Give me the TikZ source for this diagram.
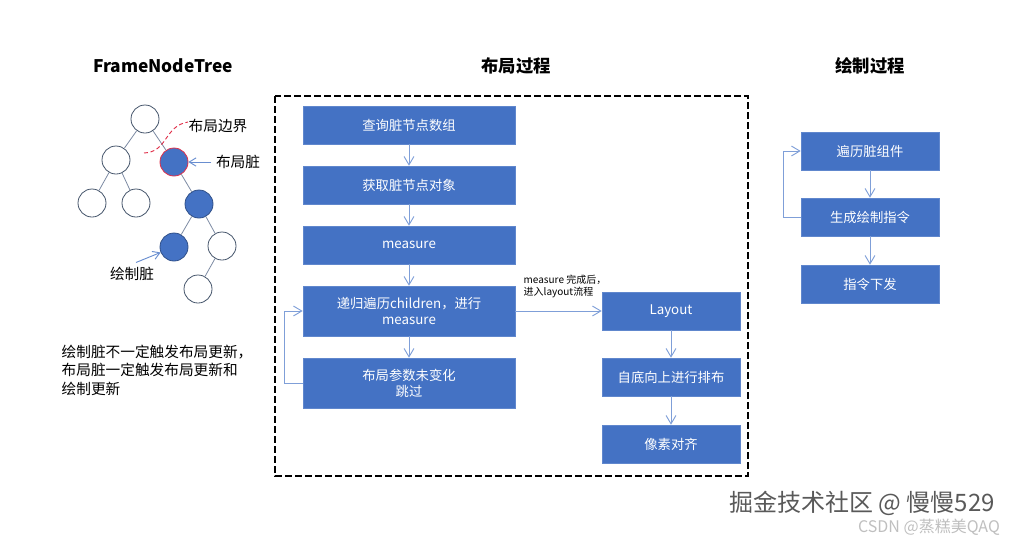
\documentclass[tikz,border=0pt]{standalone}
\usepackage{fontspec}
\setmainfont{Noto Sans CJK SC}
\usetikzlibrary{arrows.meta,positioning}
\definecolor{boxblue}{HTML}{4472C4}
\definecolor{linkblue}{HTML}{7F9FD8}
\definecolor{ringgray}{HTML}{44546A}
\definecolor{edgegray}{HTML}{7D8BA3}
\definecolor{dirtyred}{HTML}{E0304A}

\begin{document}
\begin{tikzpicture}[x=0.75pt,y=-0.75pt,font=\fontsize{10}{12}\selectfont,
  flow/.style={fill=boxblue,draw=boxblue!85!white,text=white,align=center,
               minimum width=159pt,minimum height=28.5pt,inner sep=2pt},
  tallflow/.style={flow,minimum height=37.5pt},
  narrowflow/.style={flow,minimum width=103.5pt},
  link/.style={draw=linkblue,line width=0.7pt,-{Straight Barb[length=2.2mm,width=2.6mm]}},
  tnode/.style={circle,draw=ringgray,line width=0.6pt,fill=white,minimum size=21pt,inner sep=0pt},
  tdirty/.style={tnode,fill=boxblue,draw=boxblue!70!black},
  tedge/.style={draw=edgegray,line width=0.6pt},
  pointer/.style={draw=boxblue!80!white,line width=0.7pt,-{Straight Barb[length=1.8mm,width=2.2mm]}},
  title/.style={font=\fontsize{13}{15}\selectfont\bfseries},
  note/.style={font=\fontsize{11}{14}\selectfont}]
\useasboundingbox (0,0) rectangle (1018,537);

% ---- titles
\node[title] (ttree)   at (163,66) {FrameNodeTree};
\node[title] (tlayout) at (516,66) {布局过程};
\node[title] (tpaint)  at (870,66) {绘制过程};

% ---- left: frame node tree
\node[tnode]  (root) at (145,119) {};
\node[tnode]  (n1)   at (116,160) {};
\node[tdirty,draw=dirtyred] (n2) at (174,162) {};
\node[tnode]  (n11)  at (92,203) {};
\node[tnode]  (n12)  at (136,203) {};
\node[tdirty] (n21)  at (199,204) {};
\node[tdirty] (n211) at (174,247) {};
\node[tnode]  (n212) at (222,246) {};
\node[tnode]  (n2121) at (198,289) {};
\foreach \a/\b in {root/n1,root/n2,n1/n11,n1/n12,n2/n21,n21/n211,n21/n212,n212/n2121}
  \draw[tedge] (\a) -- (\b);
\draw[dirtyred,line width=0.7pt,dash pattern=on 3pt off 2pt]
  (144,153) .. controls (168,152) and (164,126) .. (188,122);
\node[note] (lbound) at (218,126) {布局边界};
\node[note] (ldirty) at (238,162) {布局脏};
\node[note] (pdirty) at (132,274) {绘制脏};
\draw[pointer] (ldirty.west) -- (n2);
\draw[pointer] ([xshift=3pt]pdirty.north) -- (n211);
\node[note,align=left,anchor=north west] (remark) at (57,340)
  {绘制脏不一定触发布局更新，\\布局脏一定触发布局更新和\\绘制更新};

% ---- middle: layout process
\draw[line width=0.9pt,dash pattern=on 5pt off 2.5pt] (275,96) rectangle (748,476);
\node[flow]     (query)  at (409,125) {查询脏节点数组};
\node[flow]     (fetch)  at (409,185) {获取脏节点对象};
\node[flow]     (meas)   at (409,245) {measure};
\node[tallflow] (recur)  at (409,311) {递归遍历children，进行\\measure};
\node[tallflow] (skip)   at (409,383) {布局参数未变化\\跳过};
\node[narrowflow] (lay)  at (671,311) {Layout};
\node[narrowflow] (arr)  at (671,377) {自底向上进行排布};
\node[narrowflow] (pix)  at (671,444) {像素对齐};
\draw[link] (query) -- (fetch);
\draw[link] (fetch) -- (meas);
\draw[link] (meas) -- (recur);
\draw[link] (recur) -- (skip);
\draw[link] (skip.west) -- ++(-18,0) |- (recur.west);
\draw[link] (recur) -- (lay);
\draw[link] (lay) -- (arr);
\draw[link] (arr) -- (pix);
\node[font=\fontsize{7.5}{9.5}\selectfont,align=left,anchor=south west] (hint)
  at (519,303) {measure 完成后，\\进入layout流程};

% ---- right: paint process
\node[narrowflow] (walk) at (870,151) {遍历脏组件};
\node[narrowflow] (gen)  at (870,217) {生成绘制指令};
\node[narrowflow] (send) at (870,284) {指令下发};
\draw[link] (walk) -- (gen);
\draw[link] (gen) -- (send);
\draw[link] (gen.west) -- ++(-17,0) |- (walk.west);

% ---- watermark
\node[font=\fontsize{18}{20}\selectfont,text=black!65] (mark1) at (862,503) {掘金技术社区 @ 慢慢529};
\node[font=\fontsize{12}{14}\selectfont,text=black!25] (mark2) at (929,527) {CSDN @蒸糕美QAQ};
\end{tikzpicture}
\end{document}
